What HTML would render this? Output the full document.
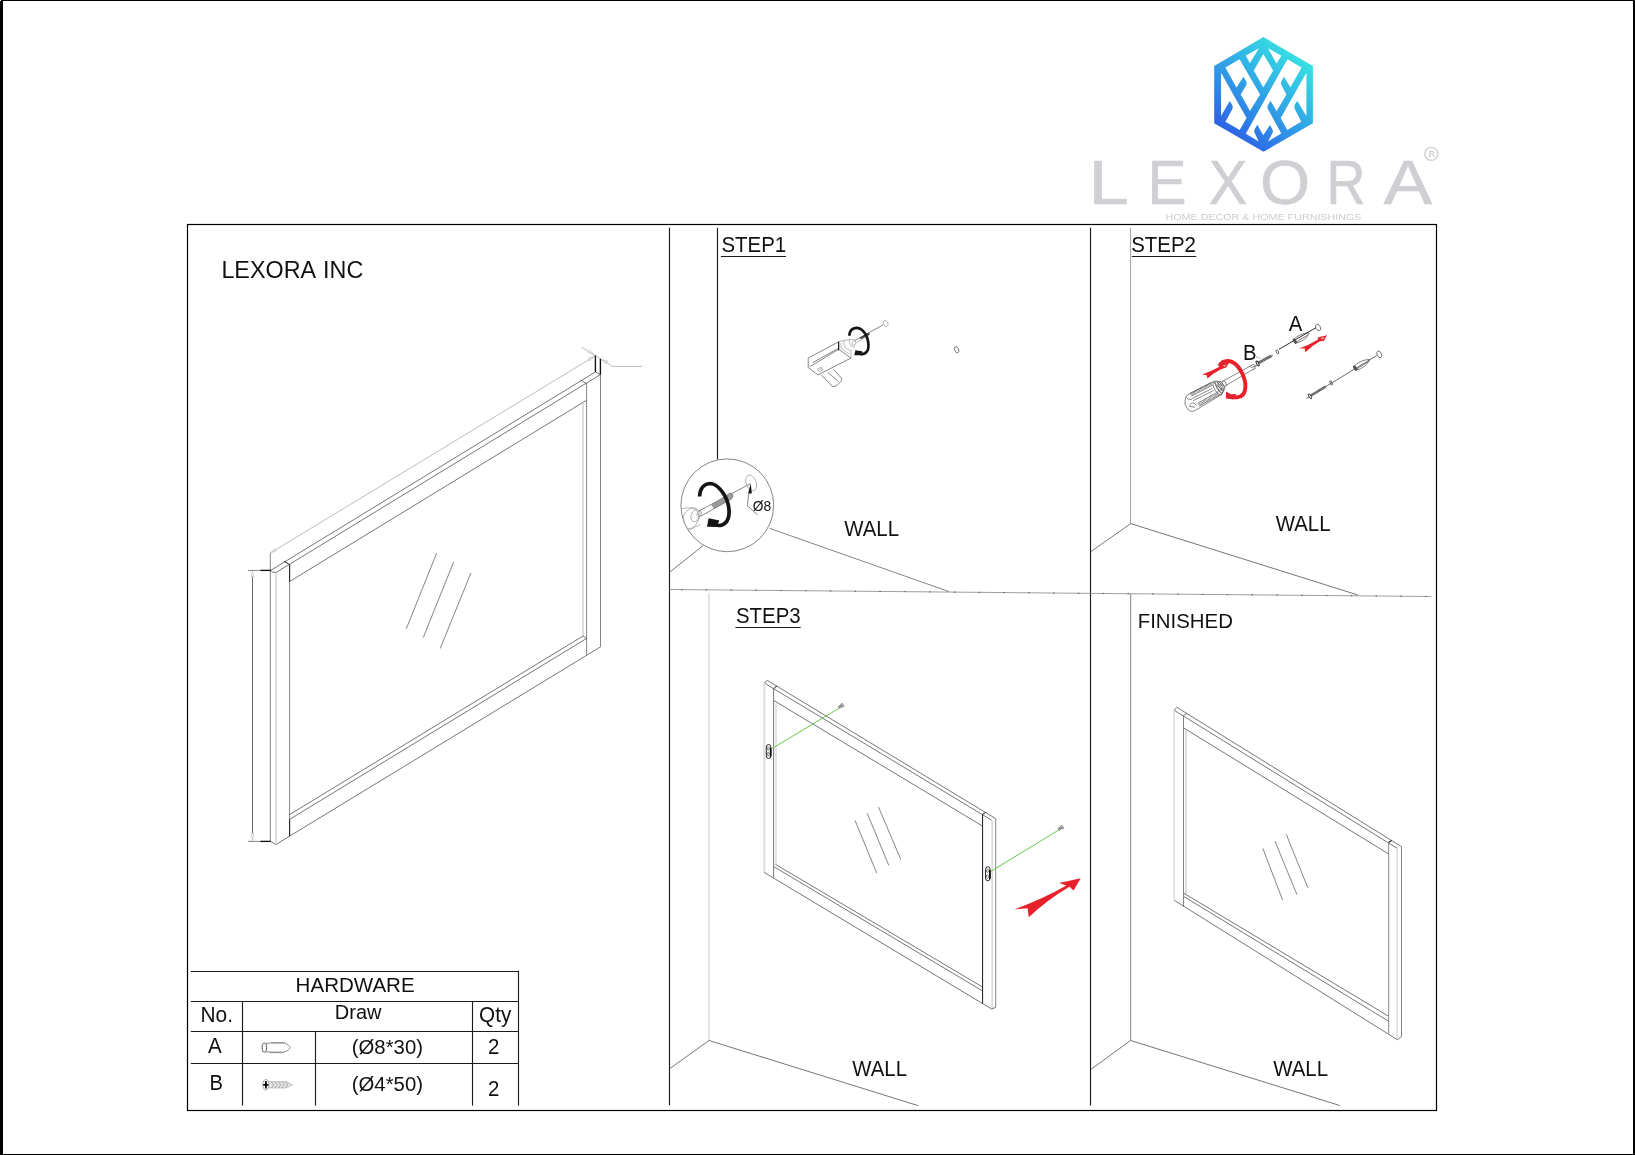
<!DOCTYPE html>
<html lang="en"><head><meta charset="utf-8"><title>LEXORA INC - Mirror installation</title>
<style>
html,body{margin:0;padding:0;background:#fff;}
body{width:1635px;height:1155px;overflow:hidden;position:relative;font-family:"Liberation Sans",sans-serif;}
svg{position:absolute;left:0;top:0;display:block;}
text{font-family:"Liberation Sans",sans-serif;fill:#111;}
.k{stroke:#1a1a1a;stroke-width:1.12;fill:none;}
.k2{stroke:#111;stroke-width:1.35;fill:none;}
.d{stroke:#404040;stroke-width:.72;fill:none;}
.j{stroke:#1c1c1c;stroke-width:1;fill:none;}
.m{stroke:#666;stroke-width:.8;fill:none;}
.g{stroke:#999;stroke-width:.7;fill:none;}
.lg{stroke:#dcdcdc;stroke-width:2;fill:none;}
.vl{stroke:#c4c4c4;stroke-width:.9;fill:none;}
.gr{stroke:#5cc83c;stroke-width:.95;fill:none;}
.r{fill:#e62129;stroke:none;}
.rs{stroke:#e62129;fill:none;stroke-width:3.2;stroke-linecap:round;}
.bs{stroke:#151515;fill:none;stroke-width:3;stroke-linecap:butt;}
.w{fill:#fff;stroke:none;}
</style></head><body>
<svg width="1635" height="1155" viewBox="0 0 1635 1155">
<defs>
<linearGradient id="lg1" gradientUnits="userSpaceOnUse" x1="1302" y1="52" x2="1228" y2="140">
<stop offset="0" stop-color="#38e6e2"/><stop offset=".5" stop-color="#30a4e6"/><stop offset="1" stop-color="#2d5ce6"/>
</linearGradient>
</defs>
<rect x="0" y="0" width="1635" height="1155" fill="#fff"/>
<g style="will-change:transform">

<rect x="0" y="0" width="3" height="1155" fill="#000"/>
<rect x="0" y="0" width="1635" height="1" fill="#000"/>
<rect x="0" y="0" width="1" height="1" fill="#fff"/>
<rect x="1633" y="0" width="2" height="1155" fill="#000"/>
<rect x="0" y="1154" width="1635" height="1" fill="#000"/>
<g id="logo">
<polygon fill="url(#lg1)" points="1263.4,37 1312.9,66.1 1312.9,123.2 1263.5,151.8 1214.2,123.2 1214.2,66.1"/>
<path class="w" d="M1245.90,55.45 L1258.90,48.20 L1249.85,63.30 Z"/>
<path class="w" d="M1268.00,48.20 L1281.40,55.80 L1276.50,63.60 Z"/>
<path class="w" d="M1263.30,53.90 L1253.80,70.60 L1263.30,87.60 L1273.20,70.60 Z"/>
<path class="w" d="M1239.60,59.15 L1225.40,67.50 L1236.50,87.55 L1243.40,76.80 L1246.04,81.09 Q1247.40,83.30 1246.07,85.53 L1240.70,94.50 L1250.00,111.10 L1260.05,94.50 Z"/>
<path class="w" d="M1221.07,72.66 L1246.55,118.00 L1239.70,130.00 L1225.40,121.80 L1232.25,109.28 Q1233.50,107.00 1232.09,104.81 L1229.70,101.10 L1221.07,115.90 Z"/>
<path class="w" d="M1287.40,59.15 L1301.60,67.50 L1290.50,87.20 L1283.90,76.80 L1281.61,80.75 Q1280.30,83.00 1281.52,85.30 L1286.40,94.50 L1276.60,111.30 L1270.50,100.80 L1268.13,104.77 Q1266.80,107.00 1268.04,109.28 L1281.25,133.50 L1268.00,141.40 L1272.27,133.49 Q1273.50,131.20 1272.21,128.94 L1270.00,125.10 L1263.25,135.20 L1257.35,124.80 L1255.01,128.42 Q1253.60,130.60 1254.72,132.95 L1258.75,141.40 L1245.80,133.80 Z"/>
<path class="w" d="M1306.40,72.66 L1280.70,118.10 L1287.20,129.90 L1301.20,121.70 L1294.67,108.82 Q1293.50,106.50 1294.96,104.35 L1297.30,100.90 L1306.40,115.90 Z"/>
</g>
<text id="wordmark" y="203.8" font-size="63.8" style="fill:#d0d0d4;stroke:#d0d0d4;stroke-width:.7"><tspan x="1088.81" textLength="39.98" lengthAdjust="spacingAndGlyphs">L</tspan><tspan x="1147.60" textLength="39.01" lengthAdjust="spacingAndGlyphs">E</tspan><tspan x="1208.67" textLength="38.54" lengthAdjust="spacingAndGlyphs">X</tspan><tspan x="1259.97" textLength="50.11" lengthAdjust="spacingAndGlyphs">O</tspan><tspan x="1326.58" textLength="38.97" lengthAdjust="spacingAndGlyphs">R</tspan><tspan x="1383.86" textLength="48.29" lengthAdjust="spacingAndGlyphs">A</tspan></text>
<text x="1165.5" y="220" font-size="8.2" textLength="196" lengthAdjust="spacingAndGlyphs" style="fill:#cdcdd1">HOME DECOR &amp; HOME FURNISHINGS</text>
<circle cx="1431.3" cy="153.9" r="6.5" fill="none" stroke="#d2d2d6" stroke-width="1.4"/>
<text x="1431.7" y="157" font-size="8.4" text-anchor="middle" style="fill:#d0d0d4;stroke:#d0d0d4;stroke-width:.35">R</text>
<rect class="k" x="187.5" y="224.5" width="1249" height="886" style="stroke:#000;stroke-width:1.2"/>
<line class="k" x1="669.5" y1="227.8" x2="669.5" y2="1105.2"/>
<line class="k" x1="717.5" y1="227.8" x2="717.5" y2="459.4"/>
<line class="k" x1="1090.5" y1="227.8" x2="1090.5" y2="1105.5"/>
<line class="m" x1="1130.6" y1="228" x2="1130.6" y2="523.6" style="stroke:#858585"/>
<line class="g" x1="669.5" y1="589.5" x2="1431" y2="596.5" style="stroke:#8c8c8c;stroke-width:.85"/>
<line class="g" x1="669.5" y1="589.5" x2="1431" y2="596.5" style="stroke:#555;stroke-width:1;stroke-dasharray:1.5 23.307;stroke-dashoffset:-11.5"/>
<line class="vl" x1="709" y1="593" x2="709" y2="1040.5" style="stroke:#d4d4d4;stroke-width:1.3"/>
<line class="m" x1="1130.7" y1="594" x2="1130.7" y2="1040.5"/>
<line class="d" x1="703.1" y1="545.7" x2="669.5" y2="572.3"/>
<line class="m" x1="769.5" y1="528.3" x2="949" y2="591.6"/>
<path class="d" d="M1090.3,552 L1130.7,523.6 L1357.9,595"/>
<path class="d" d="M669.5,1068.8 L709,1040.5 L918.3,1105.7"/>
<path class="d" d="M1090.6,1069.6 L1130.6,1040.5 L1339.8,1105.5"/>
<text x="221.4" y="278.3" font-size="23.6" word-spacing="1.8" textLength="141.87" lengthAdjust="spacingAndGlyphs">LEXORA INC</text>
<text x="721.4" y="251.8" font-size="21.4" textLength="64.81" lengthAdjust="spacingAndGlyphs">STEP1</text>
<line class="k" x1="720.9" y1="256.5" x2="786" y2="256.5"/>
<text x="1131.2" y="251.9" font-size="21.4" textLength="64.81" lengthAdjust="spacingAndGlyphs">STEP2</text>
<line class="k" x1="1131.8" y1="256.5" x2="1196.3" y2="256.5"/>
<text x="735.95" y="623.1" font-size="21.4" textLength="64.81" lengthAdjust="spacingAndGlyphs">STEP3</text>
<line class="k" x1="735.4" y1="627.5" x2="800.7" y2="627.5"/>
<text x="1137.7" y="628" font-size="20" textLength="95.21" lengthAdjust="spacingAndGlyphs">FINISHED</text>
<text x="844.3" y="535.7" font-size="21.2" textLength="54.72" lengthAdjust="spacingAndGlyphs">WALL</text>
<text x="1275.8" y="530.9" font-size="21.2" textLength="54.72" lengthAdjust="spacingAndGlyphs">WALL</text>
<text x="852.3" y="1076.1" font-size="21.2" textLength="54.72" lengthAdjust="spacingAndGlyphs">WALL</text>
<text x="1273.3" y="1076.2" font-size="21.2" textLength="54.72" lengthAdjust="spacingAndGlyphs">WALL</text>
<text x="752.7" y="510.5" font-size="14.7" textLength="18.43" lengthAdjust="spacingAndGlyphs">Ø8</text>
<text x="1288.8" y="330.7" font-size="21.4" textLength="13.63" lengthAdjust="spacingAndGlyphs">A</text>
<text x="1243.1" y="359.9" font-size="21.4" textLength="13.56" lengthAdjust="spacingAndGlyphs">B</text>
<line class="k" x1="190.8" y1="971.5" x2="519" y2="971.5"/>
<line class="k" x1="190.8" y1="1001.5" x2="519" y2="1001.5"/>
<line class="k" x1="190.8" y1="1031.5" x2="519" y2="1031.5"/>
<line class="k" x1="190.8" y1="1063.5" x2="519" y2="1063.5"/>
<line class="k" x1="242.5" y1="1000.9" x2="242.5" y2="1105.6"/>
<line class="k" x1="315.5" y1="1030.9" x2="315.5" y2="1105.6"/>
<line class="k" x1="472.5" y1="1000.9" x2="472.5" y2="1105.6"/>
<line class="k" x1="518.5" y1="970.9" x2="518.5" y2="1105.6"/>
<text x="295.6" y="992.1" font-size="20" textLength="119.06" lengthAdjust="spacingAndGlyphs">HARDWARE</text>
<text x="200.5" y="1021.7" font-size="21.4" textLength="32.47" lengthAdjust="spacingAndGlyphs">No.</text>
<text x="334.8" y="1019.3" font-size="20">Draw</text>
<text x="479.1" y="1021.7" font-size="21.4" textLength="32.16" lengthAdjust="spacingAndGlyphs">Qty</text>
<text x="208.1" y="1052.5" font-size="21.4" textLength="13.70" lengthAdjust="spacingAndGlyphs">A</text>
<text x="351.8" y="1053.5" font-size="20" textLength="71.15" lengthAdjust="spacingAndGlyphs">(Ø8*30)</text>
<text x="487.9" y="1053.5" font-size="21.4" textLength="11.37" lengthAdjust="spacingAndGlyphs">2</text>
<text x="209.4" y="1090.1" font-size="21.4" textLength="13.49" lengthAdjust="spacingAndGlyphs">B</text>
<text x="351.8" y="1091" font-size="20" textLength="71.15" lengthAdjust="spacingAndGlyphs">(Ø4*50)</text>
<text x="487.9" y="1095.9" font-size="21.4" textLength="11.37" lengthAdjust="spacingAndGlyphs">2</text>
<g class="g" style="stroke:#666;stroke-width:.75">
<ellipse cx="264.4" cy="1047.6" rx="2.2" ry="4.6" style="stroke:#555;stroke-width:1"/>
<path d="M266,1043.2 L270.6,1043.2 L271.4,1042.1 L272.2,1043.5 L273.0,1042.1 L273.8,1043.5 L274.6,1042.1 L275.4,1043.5 L276.2,1042.1 L277.0,1043.5 L277.8,1042.1 L278.6,1043.5 L279.4,1042.1 L280.2,1043.5 L281.0,1042.1 L281.8,1043.5 L282.6,1042.1 L283.4,1043.5 L284.2,1042.1 L285.0,1043.5 C287.5,1044 289.6,1045.8 290.2,1047.6 C289.6,1049.4 287.5,1051.2 284,1052 L283.2,1053.1 L282.4,1051.7 L281.6,1053.1 L280.8,1051.7 L280.0,1053.1 L279.2,1051.7 L278.4,1053.1 L277.6,1051.7 L276.8,1053.1 L276.0,1051.7 L275.2,1053.1 L274.4,1051.7 L273.6,1053.1 L272.8,1051.7 L272.0,1053.1 L271.2,1051.7 L270.4,1053.1 L269.6,1051.7 L266,1052"/>
</g>
<g>
<ellipse cx="265.8" cy="1084.8" rx="3" ry="5.4" fill="#fff" stroke="#888" stroke-width=".7"/>
<path d="M263.2,1084.8 H268.6 M265.9,1081 V1088.6" stroke="#000" stroke-width="1.7" fill="none"/>
<path d="M268.8,1081.6 L286,1081.6 L292.7,1084.8 L286,1088 L268.8,1088 Z" fill="#e4e4e4" stroke="#aaa" stroke-width=".6"/>
<path d="M271.5,1081.6 l2.2,3.2 l-2.2,3.2" fill="none" stroke="#999" stroke-width=".8"/>
<path d="M275,1081.6 l2.2,3.2 l-2.2,3.2" fill="none" stroke="#999" stroke-width=".8"/>
<path d="M278.5,1081.6 l2.2,3.2 l-2.2,3.2" fill="none" stroke="#999" stroke-width=".8"/>
<path d="M282,1081.6 l2.2,3.2 l-2.2,3.2" fill="none" stroke="#999" stroke-width=".8"/>
<path d="M285.5,1081.6 l2.2,3.2 l-2.2,3.2" fill="none" stroke="#999" stroke-width=".8"/>
</g>
<line class="d" x1="270.7" y1="570.4" x2="595.4" y2="372"/>
<line class="d" x1="275.9" y1="572.6" x2="600.4" y2="374.6"/>
<path class="d" d="M270.7,570.4 Q272,572.4 275.9,572.6"/>
<line class="d" x1="595.4" y1="372" x2="600.4" y2="374.6"/>
<line class="k2" x1="595.4" y1="355.1" x2="595.4" y2="372"/>
<line class="k2" x1="600.4" y1="358.6" x2="600.4" y2="374.8"/>
<line class="j" x1="284.1" y1="561.2" x2="289.6" y2="564.6"/>
<line class="d" x1="580.7" y1="380.2" x2="586.75" y2="383.7"/>
<line class="m" x1="289.6" y1="564.6" x2="289.6" y2="836.2"/>
<line class="j" x1="289.6" y1="564.6" x2="289.6" y2="581.5"/>
<line class="j" x1="289.6" y1="819.4" x2="289.6" y2="836.2"/>
<line class="d" x1="289.6" y1="581.5" x2="586.75" y2="400.1"/>
<line class="m" x1="586.6" y1="383.7" x2="586.6" y2="654.7"/>
<line class="m" x1="600.5" y1="374.6" x2="600.5" y2="646.75"/>
<line class="lg" x1="583" y1="402.7" x2="583" y2="636"/>
<line class="d" x1="275.9" y1="844.5" x2="600.7" y2="646.75"/>
<line class="d" x1="270.7" y1="841.4" x2="275.9" y2="844.5"/>
<line class="m" x1="270.3" y1="553" x2="270.3" y2="841.4"/>
<line class="lg" x1="276.2" y1="573.5" x2="276.2" y2="844"/>
<line class="d" x1="289.6" y1="814.6" x2="583" y2="636"/>
<line class="d" x1="289.6" y1="819.4" x2="586.5" y2="638.5"/>
<line class="d" x1="583" y1="636" x2="586.5" y2="638.5"/>
<line class="m" x1="248" y1="570.4" x2="261" y2="570.4"/>
<line class="k2" x1="260.5" y1="570.4" x2="270.7" y2="570.4"/>
<line class="m" x1="248" y1="841.4" x2="261" y2="841.4"/>
<line class="k2" x1="260.5" y1="841.4" x2="270.7" y2="841.4"/>
<line class="d" x1="252.5" y1="576.8" x2="252.5" y2="833.2" style="stroke-width:.9;stroke:#555"/>
<path class="g" d="M251.3,576.8 L252.5,571 L253.7,576.8 Z" style="stroke:#bbb"/>
<path class="g" d="M251.3,833.2 L252.5,841 L253.7,833.2 Z" style="stroke:#bbb"/>
<line class="g" x1="270.3" y1="553" x2="595" y2="356" style="stroke:#999;stroke-width:.65"/>
<path class="g" d="M270.8,552.6 L275,548 L277,551 Z" style="stroke:#bbb;stroke-width:.5"/>
<path class="g" d="M594.5,356.3 L588,358 L590,361 Z" style="stroke:#bbb;stroke-width:.5"/>
<path class="g" d="M581.6,347.1 L612.7,366.4 L642,366.4" style="stroke:#999;stroke-width:.65"/>
<path class="g" d="M594.5,355 L588,352.3 L590,349.5 Z" style="stroke:#bbb;stroke-width:.5"/>
<path class="g" d="M601.5,359.5 L606,364 L608,361 Z" style="stroke:#bbb;stroke-width:.5"/>
<line class="m" x1="436.7" y1="553" x2="406.3" y2="628.8"/>
<line class="m" x1="453.6" y1="562.1" x2="423.3" y2="637.5"/>
<line class="m" x1="470.9" y1="573" x2="440.2" y2="648.5"/>
<g id="drill">
<path class="m" d="M808.2,358.1 L839,341.6 L839,349.4 L850.9,358.1 L818,374.9 L808.2,367.5 Z"/>
<line class="g" x1="851" y1="349.8" x2="851" y2="358.3"/>
<line class="m" x1="809.8" y1="366.7" x2="837.8" y2="349.8"/>
<line class="m" x1="812.7" y1="362.6" x2="837.8" y2="348.6"/>
<path class="m" d="M821.3,374.9 L832.8,386.9 Q836,387 839.8,382.7 Q842.5,380.5 841.5,378.2 L833.7,369.6"/>
<line class="m" x1="827.9" y1="372.5" x2="838.6" y2="381.5"/>
<path class="g" d="M817.2,369.2 L821.3,367.1 L823,370 L819.3,371.6 Z M818.2,370.4 L822,368.5"/>
<line class="j" x1="838.5" y1="341.8" x2="838.5" y2="350.4"/>
<path class="g" d="M838.4,341.6 L851.8,339.2 L855.4,340.6"/>
<path class="g" d="M841.3,343 C840,346.5 841.5,350.5 848.9,353.4"/>
<path class="g" d="M844.4,340.5 C843,344.5 845.5,349.2 850.8,350.8"/>
<path class="g" d="M849.6,339.6 C848.4,343.5 851,347.8 855.2,346.8"/>
<ellipse cx="854" cy="343" rx="1.7" ry="2.4" transform="rotate(20 854 343)" class="g"/>
<line class="m" x1="855" y1="340.4" x2="883.4" y2="324.7"/>
<line class="g" x1="856.6" y1="342.7" x2="869" y2="335"/>
<line class="d" x1="860.2" y1="338.4" x2="869.4" y2="333.5" style="stroke-width:2;stroke:#444"/>
<ellipse cx="885.7" cy="323.5" rx="2.1" ry="3.2" transform="rotate(-25 885.7 323.5)" class="g"/>
<path class="bs" d="M849.4,335.8 C849.4,328.5 856.5,325.6 862,330 C869,336 870,348.5 866.3,352.3 C864.8,353.9 862.6,354.4 860.5,354" style="stroke-width:2.7"/>
<path class="" d="M854.2,355.3 L855.4,350.2 L862.2,351.2 L862.2,355.2 Z" fill="#151515"/>
</g>
<ellipse cx="956.6" cy="349.7" rx="2" ry="3.2" transform="rotate(-25 956.6 349.7)" class="m"/>
<g id="detail">
<circle cx="727.3" cy="505.3" r="46.4" fill="#fff" class="m"/>
<clipPath id="cc"><circle cx="727.3" cy="505.3" r="46.4"/></clipPath>
<g clip-path="url(#cc)">
<ellipse cx="690.7" cy="518.6" rx="7.6" ry="10.5" transform="rotate(20 690.7 518.6)" class="g"/>
<path d="M681,509 Q692,506.5 697,508.5" class="g"/>
<path d="M684,533 L700,524.5" class="g"/>
</g>
<ellipse cx="695.5" cy="515.7" rx="4.3" ry="6.2" transform="rotate(20 695.5 515.7)" class="g" fill="#fff"/>
<ellipse cx="699.3" cy="513.8" rx="2.1" ry="3.1" transform="rotate(20 699.3 513.8)" class="g" fill="#fff"/>
<line class="m" x1="698.8" y1="511" x2="750.2" y2="483.8"/>
<line class="m" x1="700.7" y1="516.2" x2="732.1" y2="498.6"/>
<path class="" d="M711.7,504.8 L729.8,492.9 Q732,492.6 733,495 Q733.6,496.8 732.6,497.8 L714,508.6 Z" fill="#9a9a9a" stroke="#777" stroke-width=".5"/>
<ellipse cx="751.2" cy="482.9" rx="5" ry="8.2" transform="rotate(-22 751.2 482.9)" class="g"/>
<path class="" d="M750.7,483.3 L748.1,493.5 L751.8,493.5 Z" fill="#111"/>
<path class="m" d="M748.8,493.3 L747.4,505.7 L757.4,514.8"/>
<path class="bs" d="M699.6,496.5 C700,488 704.5,483.5 710.5,483.5 C718,484 726,495 728.3,505 C730.5,515.5 728,523 722,525 C719.5,525.8 717,525.4 715.5,524.6" style="stroke-width:3.7"/>
<path class="" d="M707,526.8 L708.6,518.2 L719.4,520.6 L716.5,527 Z" fill="#151515"/>
</g>
<g id="step2">
<path class="g" d="M1187.3,395 L1213.8,381.5 L1221.6,394.5 L1194.6,410.8 Q1189.5,412.6 1187,408 Q1184,403.8 1185.1,400.4 Q1185.4,396.6 1187.3,395 Z" style="stroke:#555;stroke-width:.7" fill="#fff"/>
<line class="g" x1="1190.7" y1="394.5" x2="1211.5" y2="383.8" style="stroke:#555;stroke-width:2.3;stroke-dasharray:.55 .8"/>
<line class="g" x1="1198.6" y1="404.6" x2="1218.8" y2="393.3" style="stroke:#555;stroke-width:2.3;stroke-dasharray:.55 .8"/>
<line class="g" x1="1189.5" y1="393.6" x2="1211" y2="382.5" style="stroke:#555;stroke-width:.7"/>
<line class="g" x1="1191.5" y1="396" x2="1212.5" y2="385.2" style="stroke:#555;stroke-width:.7"/>
<line class="g" x1="1191.3" y1="399" x2="1212.6" y2="388.2" style="stroke:#555;stroke-width:.7"/>
<line class="g" x1="1193" y1="400.7" x2="1213.8" y2="390.5" style="stroke:#555;stroke-width:.7"/>
<line class="g" x1="1197.6" y1="403.2" x2="1218" y2="391.9" style="stroke:#555;stroke-width:.7"/>
<line class="g" x1="1199.4" y1="406" x2="1219.6" y2="394.7" style="stroke:#555;stroke-width:.7"/>
<path class="g" d="M1186.2,397.3 Q1188,400 1191.3,399.5" style="stroke:#555;stroke-width:.7"/>
<path class="g" d="M1189.5,406.4 Q1191,401.8 1194.2,403.2 L1196.8,405.8" style="stroke:#555;stroke-width:.7"/>
<path class="g" d="M1189.8,406.5 L1195,407.2" style="stroke:#555;stroke-width:.7"/>
<ellipse cx="1217.7" cy="388" rx="3.3" ry="7.7" transform="rotate(-29 1217.7 388)" class="g" fill="#fff" style="stroke:#555;stroke-width:.7"/>
<ellipse cx="1219.6" cy="386.9" rx="2.9" ry="6.6" transform="rotate(-29 1219.6 386.9)" class="g" fill="#fff" style="stroke:#555;stroke-width:.7"/>
<ellipse cx="1221.3" cy="385.9" rx="2.4" ry="5.2" transform="rotate(-29 1221.3 385.9)" class="g" fill="#fff" style="stroke:#555;stroke-width:.7"/>
<path class="g" d="M1216.2,384.6 L1220.6,388.6 M1217.8,391.4 L1222.8,388.2 M1219.6,382.4 L1221.5,386.2" style="stroke:#555;stroke-width:.7"/>
<ellipse cx="1224.2" cy="383.6" rx="1.7" ry="3.1" transform="rotate(-29 1224.2 383.6)" class="g" fill="#fff" style="stroke:#555;stroke-width:.7"/>
<line class="g" x1="1223.3" y1="380.9" x2="1251.6" y2="365.4" style="stroke:#555;stroke-width:.7"/>
<line class="g" x1="1226" y1="385.4" x2="1253.8" y2="368.9" style="stroke:#555;stroke-width:.7"/>
<path class="g" d="M1249.3,366.6 L1253.2,364.4 L1256.6,365.8 L1254.6,367.2 L1255.4,368.4 L1252.2,369.8" style="stroke:#555;stroke-width:.7"/>
<line class="g" x1="1250.8" y1="367.6" x2="1255" y2="366.4" style="stroke:#555;stroke-width:.7"/>
<path class="rs" d="M1219.6,366.2 C1221,362.6 1224.6,360.8 1228.6,361 C1233.3,361.4 1238,365.8 1241.2,371.4 C1244.4,377.2 1245.9,383.5 1245.3,388.4 C1244.6,394 1241.6,396.9 1237.4,397.3 C1236,397.4 1234.8,397.3 1233.8,397.2" style="stroke-width:3.9;stroke-linecap:butt"/>
<path class="r" d="M1226,391.4 L1226,398.6 L1233.6,399.6 L1236.4,394 L1231,394.2 Z"/>
<path class="r" d="M1201.9,374.5 Q1211.6,371.4 1218.9,367.1 L1222.6,363.6 L1229.2,362.5 L1226.2,367.6 L1220.6,369.5 Q1213.4,373 1207.6,378.6 L1206.4,374.9 Z"/>
<path class="" d="M1222.6,365.4 L1226.6,364.4 L1224.8,367 Z" fill="#d9a9aa"/>
<line class="d" x1="1258.4" y1="362.9" x2="1271.6" y2="355.7" style="stroke:#9a9a9a;stroke-width:2.7"/>
<line class="d" x1="1258.4" y1="362.9" x2="1271.6" y2="355.7" style="stroke:#333;stroke-width:2.9;stroke-dasharray:.6 .9"/>
<path class="" d="M1271.3,354.9 L1273,355 L1271.9,356.5 Z" fill="#666"/>
<ellipse cx="1257.6" cy="363.5" rx="1" ry="2.7" transform="rotate(-29 1257.6 363.5)" fill="#fff" stroke="#222" stroke-width=".9"/>
<line class="g" x1="1256.2" y1="356.9" x2="1261.3" y2="358.6" style="stroke:#666;stroke-dasharray:1.6 1"/>
<ellipse cx="1277.4" cy="351.9" rx="1.1" ry="2.1" transform="rotate(-25 1277.4 351.9)" class="d" style="stroke:#333"/>
<path class="m" d="M1293.53,340.00 C1296.29,336.20 1303.09,332.68 1309.10,333.02 C1307.76,337.64 1301.54,342.21 1296.30,342.92 Z" fill="#fff" style="stroke:#444;stroke-width:.7"/>
<line class="d" x1="1279" y1="349.3" x2="1316.6" y2="327.3" style="stroke:#222;stroke-width:.95"/>
<line class="d" x1="1296.22" y1="342.06" x2="1307.89" y2="335.06" style="stroke:#444;stroke-width:.7"/>
<ellipse cx="1294.83" cy="341.11" rx="1.1" ry="2.6" transform="rotate(-29 1294.83 341.11)" fill="#666" stroke="#333" stroke-width=".8"/>
<ellipse cx="1318.1" cy="327.5" rx="2.2" ry="3.5" transform="rotate(-25 1318.1 327.5)" fill="#fff" stroke="#555" stroke-width=".75"/>
<path class="r" d="M1299,348.5 Q1309,345.2 1317.6,339.8 L1318.2,337.2 L1327,335.2 L1323.8,341.1 L1319.8,341.2 Q1311.6,345.8 1305.4,352.3 L1304.6,348.2 Z"/>
<path class="" d="M1320.6,337.9 L1324.4,337 L1322.8,339.8 Z" fill="#e9b9ba"/>
<line class="d" x1="1306.2" y1="398.5" x2="1376.8" y2="355.5" style="stroke:#333"/>
<line class="d" x1="1309.8" y1="396.3" x2="1325.7" y2="386.5" style="stroke:#9a9a9a;stroke-width:2.4"/>
<line class="d" x1="1309.8" y1="396.3" x2="1325.7" y2="386.5" style="stroke:#333;stroke-width:2.6;stroke-dasharray:.6 .9"/>
<ellipse cx="1310" cy="396.3" rx="1" ry="2.8" transform="rotate(-31 1310 396.3)" fill="#fff" stroke="#222" stroke-width=".8"/>
<ellipse cx="1331.1" cy="382.9" rx="1" ry="2.2" transform="rotate(-25 1331.1 382.9)" class="d" style="stroke:#333"/>
<path class="m" d="M1353.80,367.02 C1356.54,363.11 1363.39,359.37 1369.50,359.53 C1368.21,364.21 1361.96,368.99 1356.65,369.87 Z" fill="#fff" style="stroke:#444;stroke-width:.7"/>
<line class="d" x1="1354" y1="369" x2="1354.1" y2="369" style="stroke:#222;stroke-width:.95"/>
<line class="d" x1="1356.55" y1="369.0" x2="1368.3" y2="361.61" style="stroke:#444;stroke-width:.7"/>
<ellipse cx="1355.12" cy="368.10" rx="1.1" ry="2.6" transform="rotate(-29 1355.12 368.10)" fill="#666" stroke="#333" stroke-width=".8"/>
<ellipse cx="1379.3" cy="354.4" rx="2.2" ry="3.5" transform="rotate(-25 1379.3 354.4)" fill="#fff" stroke="#555" stroke-width=".75"/>
</g>
<g id="step3">
<line class="d" x1="767.3" y1="680.4" x2="995.5" y2="818.5"/>
<line class="d" x1="764.3" y1="683" x2="991.8" y2="820.3"/>
<line class="d" x1="764.3" y1="683" x2="767.3" y2="680.4"/>
<line class="j" x1="776.8" y1="686" x2="773.8" y2="688.6"/>
<line class="d" x1="773.6" y1="688.6" x2="773.6" y2="877.8"/>
<line class="lg" x1="764.3" y1="683" x2="764.3" y2="872.3"/>
<line class="lg" x1="776" y1="703" x2="776" y2="864.5" style="stroke-width:1.6"/>
<line class="d" x1="773.5" y1="700.3" x2="982.1" y2="825.8"/>
<line class="j" x1="985.8" y1="812.4" x2="982.7" y2="814.2"/>
<line class="k" x1="982.6" y1="814.2" x2="982.6" y2="1003.5" style="stroke-width:1"/>
<line class="lg" x1="992.2" y1="820.5" x2="992.2" y2="1008.8" style="stroke-width:1.8"/>
<line class="m" x1="995.7" y1="818.5" x2="995.7" y2="1007.4"/>
<line class="d" x1="764" y1="872.3" x2="991.7" y2="1009"/>
<line class="d" x1="991.7" y1="1009" x2="995.7" y2="1007.4"/>
<line class="d" x1="775.4" y1="864.3" x2="982.2" y2="986.8"/>
<line class="d" x1="773.9" y1="866.7" x2="982.2" y2="990.7"/>
<line class="m" x1="855.1" y1="820.5" x2="876.7" y2="873.1"/>
<line class="m" x1="867.2" y1="813.2" x2="888.8" y2="865.4"/>
<line class="m" x1="878.5" y1="807" x2="900.8" y2="859.5"/>
<line class="gr" x1="771.6" y1="748.8" x2="840" y2="707.7"/>
<line class="gr" x1="990.6" y1="871.5" x2="1059.7" y2="829.4"/>
<g transform="translate(840.6 706.3) rotate(-31)"><path d="M-2,-1.1 L1.6,-1.1 L1.6,1.1 L-2,1.1 Z" fill="#999" stroke="#666" stroke-width=".5"/><ellipse cx="2.2" cy="0" rx="1" ry="2" fill="#bbb" stroke="#666" stroke-width=".5"/></g>
<g transform="translate(1060.3 828.3) rotate(-31)"><path d="M-2,-1.1 L1.6,-1.1 L1.6,1.1 L-2,1.1 Z" fill="#999" stroke="#666" stroke-width=".5"/><ellipse cx="2.2" cy="0" rx="1" ry="2" fill="#bbb" stroke="#666" stroke-width=".5"/></g>
<g transform="translate(768.6 751.5)"><rect x="-2.3" y="-7" width="4.6" height="14" rx="2.3" ry="2.6" fill="#fff" stroke="#111" stroke-width=".9"/><path d="M1.2,-4.2 L2.9,-3 L2.9,4.6 L1.2,6 Z" fill="#111"/><ellipse cx="-.4" cy="-3" rx="1" ry="1.6" fill="none" stroke="#333" stroke-width=".6"/><ellipse cx="-.4" cy="2.6" rx="1" ry="1.8" fill="none" stroke="#333" stroke-width=".6"/></g>
<g transform="translate(987.8 873.8)"><rect x="-2.3" y="-7" width="4.6" height="14" rx="2.3" ry="2.6" fill="#fff" stroke="#111" stroke-width=".9"/><path d="M1.2,-4.2 L2.9,-3 L2.9,4.6 L1.2,6 Z" fill="#111"/><ellipse cx="-.4" cy="-3" rx="1" ry="1.6" fill="none" stroke="#333" stroke-width=".6"/><ellipse cx="-.4" cy="2.6" rx="1" ry="1.8" fill="none" stroke="#333" stroke-width=".6"/></g>
<path class="r" d="M1014.2,909.4 Q1042,899.5 1066.4,885.6 L1059.1,883.1 L1080.7,878.2 L1073.6,890.6 L1069.4,886.8 Q1047,900 1028.8,917.3 L1027.6,908.2 Z"/>
</g>
<g id="finished">
<line class="d" x1="1176.9" y1="707.3" x2="1401.5" y2="846.7"/>
<line class="d" x1="1174" y1="710.2" x2="1397.1" y2="848.3"/>
<line class="d" x1="1174" y1="710.2" x2="1176.9" y2="707.3"/>
<line class="d" x1="1186.8" y1="713.5" x2="1183.5" y2="715.5"/>
<line class="m" x1="1183.5" y1="715.5" x2="1183.5" y2="906.6"/>
<line class="g" x1="1185.9" y1="730.5" x2="1185.9" y2="894"/>
<line class="lg" x1="1174.2" y1="710.5" x2="1174.2" y2="900.4" style="stroke-width:1.6"/>
<line class="d" x1="1183.5" y1="727.8" x2="1388.3" y2="853.8"/>
<line class="k" x1="1391.6" y1="840.6" x2="1388.7" y2="842.3"/>
<line class="m" x1="1388.7" y1="842.3" x2="1388.7" y2="1033.5"/>
<line class="vl" x1="1397.1" y1="848.3" x2="1397.1" y2="1039.7"/>
<line class="m" x1="1401.5" y1="846.7" x2="1401.5" y2="1036.5"/>
<line class="d" x1="1174.4" y1="900.4" x2="1397.4" y2="1039.7"/>
<line class="d" x1="1397.4" y1="1039.7" x2="1401.6" y2="1036.5"/>
<line class="d" x1="1183.9" y1="893.3" x2="1388.1" y2="1015.9"/>
<line class="d" x1="1183.9" y1="896.6" x2="1388.1" y2="1020.9"/>
<line class="m" x1="1262.8" y1="848.3" x2="1282.6" y2="900"/>
<line class="m" x1="1274.9" y1="841" x2="1296.9" y2="894.5"/>
<line class="m" x1="1286.3" y1="834.4" x2="1307.9" y2="887.9"/>
</g>
</g></svg></body></html>
